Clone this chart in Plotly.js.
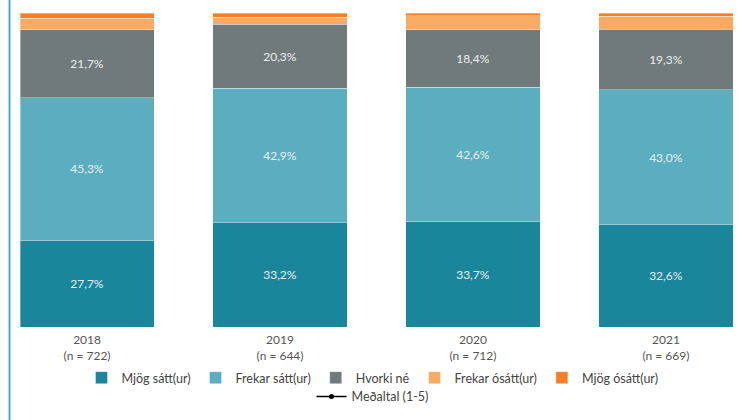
<!DOCTYPE html>
<html>
<head>
<meta charset="utf-8">
<script src="https://cdn.plot.ly/plotly-3.0.1.min.js"></script>
<style>html,body{margin:0;padding:0;background:#fff;}#chart{width:745px;height:420px;}</style>
</head>
<body>
<div id="chart"></div>
<script>
const years = ['2018', '2019', '2020', '2021'];
const nValues = [722, 644, 712, 669];
const tickLabels = ['2018<br>(n = 722)', '2019<br>(n = 644)', '2020<br>(n = 712)', '2021<br>(n = 669)'];

const seriesNames = ['Mjög sátt(ur)', 'Frekar sátt(ur)', 'Hvorki né', 'Frekar ósátt(ur)', 'Mjög ósátt(ur)'];
const mjogSatt = [27.7, 33.2, 33.7, 32.6];
const frekarSatt = [45.3, 42.9, 42.6, 43.0];
const hvorkiNe = [21.7, 20.3, 18.4, 19.3];
const frekarOsatt = [3.6, 2.3, 4.4, 4.1];
const mjogOsatt = [1.7, 1.3, 0.9, 1.0];
const showLabel = [true, true, true, false, false];
const medaltal = [null, null, null, null];

const colors = ['#1a869c', '#5aaec0', '#717a7b', '#f9ab64', '#f47f26'];
const seriesValues = [mjogSatt, frekarSatt, hvorkiNe, frekarOsatt, mjogOsatt];

const fmt = v => v.toFixed(1).replace('.', ',') + '%';

const traces = seriesValues.map((vals, i) => ({
  type: 'bar',
  name: seriesNames[i],
  x: years,
  y: vals,
  marker: {color: colors[i], line: {color: 'rgba(255,255,255,0.35)', width: 1}},
  text: showLabel[i] ? vals.map(fmt) : vals.map(() => ''),
  textposition: showLabel[i] ? 'inside' : 'none',
  insidetextanchor: 'middle',
  textfont: {color: '#e8eef0', size: 12, family: 'Lato, "Noto Sans", sans-serif'},
  hoverinfo: 'name+y',
  legend: 'legend'
}));

traces.push({
  type: 'scatter',
  mode: 'lines+markers',
  name: 'Meðaltal (1-5)',
  x: years,
  y: medaltal,
  line: {color: '#000', width: 1.5},
  marker: {color: '#000', size: 5},
  legend: 'legend2'
});

const layout = {
  width: 745,
  height: 420,
  margin: {l: 20, r: 12, t: 13, b: 93, autoexpand: false},
  paper_bgcolor: '#fff',
  plot_bgcolor: '#fff',
  barmode: 'stack',
  bargap: 0.305,
  font: {family: 'Lato, "Noto Sans", sans-serif', color: '#444', size: 12},
  xaxis: {
    type: 'category',
    range: [-0.3475, 3.3475],
    tickvals: years,
    ticktext: tickLabels,
    showgrid: false,
    zeroline: false,
    showline: false,
    ticks: '',
    ticklabelstandoff: 4,
    tickfont: {size: 12, color: '#555'},
    automargin: false
  },
  yaxis: {
    range: [0, 100],
    visible: false,
    showgrid: false,
    zeroline: false
  },
  showlegend: true,
  legend: {
    orientation: 'h',
    traceorder: 'normal',
    x: 0.5, xanchor: 'center', xref: 'container',
    y: 0.1, yanchor: 'middle', yref: 'container',
    font: {size: 12.5, color: '#444'},
    itemwidth: 30,
    tracegroupgap: 0,
    bgcolor: 'rgba(0,0,0,0)'
  },
  legend2: {
    orientation: 'h',
    x: 0.5, xanchor: 'center', xref: 'container',
    y: 0.055, yanchor: 'middle', yref: 'container',
    font: {size: 12.5, color: '#444'},
    bgcolor: 'rgba(0,0,0,0)'
  },
  shapes: [{
    type: 'line', xref: 'paper', yref: 'paper',
    xsizemode: 'pixel', xanchor: 0,
    x0: -10.5, x1: -10.5,
    y0: -0.3, y1: 1.05,
    line: {color: '#29a8e0', width: 1.8}
  }]
};

Plotly.newPlot('chart', traces, layout, {displayModeBar: false, staticPlot: true});
</script>
</body>
</html>
